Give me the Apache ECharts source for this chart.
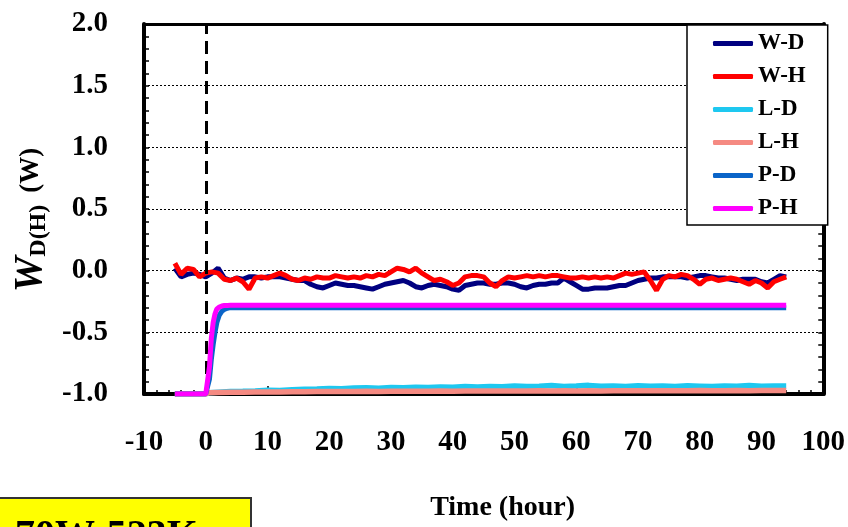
<!DOCTYPE html>
<html>
<head>
<meta charset="utf-8">
<script src="https://cdn.jsdelivr.net/npm/echarts@6/dist/echarts.min.js"></script>
<style>
html,body{margin:0;padding:0;background:#fff;}
#chart{width:848px;height:527px;}
</style>
</head>
<body>
<div id="chart"></div>
<script>
// ---- data ----
var timeW = [];
for (var h = -5; h <= 94; h++) timeW.push(h);

var wD = [0.02,-0.05,-0.03,-0.02,-0.03,-0.05,-0.02,0.02,-0.06,-0.08,
  -0.06,-0.07,-0.05,-0.05,-0.06,-0.05,-0.05,-0.05,-0.06,-0.07,
  -0.08,-0.08,-0.11,-0.13,-0.14,-0.12,-0.10,-0.11,-0.12,-0.12,
  -0.13,-0.14,-0.15,-0.13,-0.11,-0.10,-0.09,-0.08,-0.10,-0.13,
  -0.14,-0.12,-0.11,-0.12,-0.13,-0.15,-0.16,-0.12,-0.11,-0.10,
  -0.10,-0.11,-0.11,-0.10,-0.10,-0.11,-0.13,-0.14,-0.12,-0.11,
  -0.11,-0.10,-0.10,-0.06,-0.09,-0.12,-0.15,-0.15,-0.14,-0.14,
  -0.14,-0.13,-0.12,-0.12,-0.10,-0.08,-0.07,-0.06,-0.06,-0.05,
  -0.05,-0.05,-0.05,-0.06,-0.05,-0.04,-0.04,-0.05,-0.06,-0.06,
  -0.07,-0.08,-0.07,-0.07,-0.07,-0.09,-0.10,-0.07,-0.04,-0.05];

var wH = [0.06,-0.03,0.02,0.01,-0.05,-0.02,-0.01,-0.02,-0.07,-0.08,
  -0.06,-0.09,-0.15,-0.06,-0.05,-0.06,-0.04,-0.02,-0.04,-0.07,
  -0.08,-0.06,-0.07,-0.05,-0.06,-0.06,-0.04,-0.05,-0.06,-0.05,
  -0.06,-0.04,-0.05,-0.03,-0.04,-0.01,0.02,0.01,-0.01,0.02,
  -0.02,-0.05,-0.08,-0.07,-0.09,-0.12,-0.10,-0.05,-0.04,-0.04,
  -0.05,-0.10,-0.13,-0.08,-0.05,-0.06,-0.05,-0.04,-0.05,-0.04,
  -0.05,-0.04,-0.04,-0.05,-0.06,-0.06,-0.05,-0.06,-0.05,-0.06,
  -0.05,-0.06,-0.04,-0.02,-0.03,-0.02,-0.01,-0.08,-0.16,-0.07,
  -0.04,-0.05,-0.03,-0.04,-0.07,-0.11,-0.07,-0.06,-0.08,-0.07,
  -0.06,-0.07,-0.09,-0.11,-0.08,-0.10,-0.14,-0.09,-0.07,-0.05];

var timeL = [-5,-3,-1,0,0.5,2,4,6,8,10,12,14,16,18,20,22,24,26,28,30,32,34,36,38,40,
  42,44,46,48,50,52,54,56,58,60,62,64,66,68,70,72,74,76,78,80,82,84,86,88,90,92,94];
var lD = [-1,-1,-1,-1,-0.99,-0.985,-0.98,-0.978,-0.975,-0.97,-0.972,-0.965,-0.962,-0.96,-0.955,
  -0.958,-0.952,-0.95,-0.953,-0.948,-0.95,-0.945,-0.947,-0.944,-0.946,-0.94,-0.943,-0.94,-0.942,
  -0.935,-0.94,-0.938,-0.932,-0.94,-0.936,-0.93,-0.938,-0.935,-0.94,-0.934,-0.938,-0.936,-0.94,
  -0.934,-0.937,-0.94,-0.935,-0.938,-0.932,-0.937,-0.935,-0.935];
var lH = [-1,-1,-1,-1,-0.99,-0.988,-0.986,-0.985,-0.984,-0.983,-0.983,-0.982,-0.981,-0.98,-0.98,
  -0.979,-0.98,-0.978,-0.979,-0.978,-0.977,-0.978,-0.977,-0.976,-0.977,-0.976,-0.976,-0.975,-0.976,
  -0.975,-0.976,-0.974,-0.975,-0.974,-0.975,-0.973,-0.975,-0.974,-0.974,-0.973,-0.974,-0.973,-0.974,
  -0.973,-0.972,-0.974,-0.973,-0.972,-0.973,-0.972,-0.972,-0.972];

var timeP = [-5,0,0.3,0.6,0.9,1.2,1.5,1.8,2.2,2.6,3,3.5,4,5,10,20,30,40,50,60,70,80,90,94];
var pD = [-1,-1,-1,-0.88,-0.72,-0.6,-0.5,-0.42,-0.36,-0.33,-0.315,-0.305,-0.30,-0.30,
  -0.30,-0.30,-0.30,-0.30,-0.30,-0.30,-0.30,-0.30,-0.30,-0.30];
var pH = [-1,-1,-1,-0.78,-0.55,-0.42,-0.35,-0.31,-0.295,-0.287,-0.283,-0.282,-0.281,-0.28,
  -0.28,-0.28,-0.28,-0.28,-0.28,-0.28,-0.28,-0.28,-0.28,-0.28];

var seriesNames = ['W-D','W-H','L-D','L-H','P-D','P-H'];
var seriesColors = ['#000080','#FF0000','#1EC8F0','#F58A82','#0A64C8','#FF00FF'];
var xTicks = {min:-10, max:100, step:10};
var yTicks = {min:-1, max:2, step:0.5};

function pairs(t, v){ return t.map(function(x,i){ return [x, v[i]]; }); }
var seriesData = [pairs(timeW,wD), pairs(timeW,wH), pairs(timeL,lD), pairs(timeL,lH), pairs(timeP,pD), pairs(timeP,pH)];
var lineWidths = [5,5,5.5,5.5,5,5];

var FONT = "'Liberation Serif','Times New Roman',serif";
var chart = echarts.init(document.getElementById('chart'), null, {renderer:'canvas'});

var series = seriesNames.map(function(n,i){
  return {
    name:n, type:'line', data:seriesData[i], showSymbol:false, symbol:'none',
    lineStyle:{color:seriesColors[i], width:lineWidths[i]}, itemStyle:{color:seriesColors[i]},
    z: 2+i
  };
});
series[5].markLine = {
  silent:true, symbol:['none','none'], label:{show:false},
  lineStyle:{color:'#000', type:[13,7], width:3},
  data:[{xAxis:0}], animation:false
};

chart.setOption({
  animation:false,
  backgroundColor:'#fff',
  grid:{left:144, right:19, top:24, bottom:133, containLabel:false},
  legend:{
    data:seriesNames, orient:'vertical', left:687, top:25,
    icon:'roundRect', itemWidth:40, itemHeight:5, itemGap:10,
    padding:[7,22,5,26], backgroundColor:'#fff', borderColor:'#000', borderWidth:1.5,
    textStyle:{fontFamily:FONT, fontWeight:'bold', fontSize:23, color:'#000', lineHeight:23},
    z:10
  },
  xAxis:[{
    type:'value', min:xTicks.min, max:xTicks.max, interval:xTicks.step, position:'bottom',
    axisLine:{show:true, onZero:false, lineStyle:{color:'#000', width:4}},
    axisTick:{show:true, inside:true, length:8, lineStyle:{color:'#000', width:1.5}},
    minorTick:{show:true, splitNumber:5, length:4, lineStyle:{color:'#000', width:1.5}},
    splitLine:{show:false},
    axisLabel:{margin:34, fontFamily:FONT, fontWeight:'bold', fontSize:29, color:'#000'},
    name:'Time (hour)', nameLocation:'middle', nameGap:100,
    nameTextStyle:{fontFamily:FONT, fontWeight:'bold', fontSize:28, color:'#000', padding:[0,0,0,38]}
  },{
    type:'value', min:xTicks.min, max:xTicks.max, interval:xTicks.step, position:'top',
    axisLine:{show:true, onZero:false, lineStyle:{color:'#000', width:3}},
    axisTick:{show:false}, axisLabel:{show:false}, splitLine:{show:false}
  }],
  yAxis:[{
    type:'value', min:yTicks.min, max:yTicks.max, interval:yTicks.step, position:'left',
    axisLine:{show:true, onZero:false, lineStyle:{color:'#000', width:4}},
    axisTick:{show:true, inside:true, length:5, lineStyle:{color:'#000', width:1.5}},
    minorTick:{show:true, splitNumber:5, length:5, lineStyle:{color:'#000', width:1.5}},
    splitLine:{show:true, lineStyle:{color:'#000', type:[2,2], width:1}},
    axisLabel:{margin:36, fontFamily:FONT, fontWeight:'bold', fontSize:29, color:'#000',
      formatter:function(v){ return v.toFixed(1); }},
    name:'{w|W}{s|D(H)}{g|}{n|(W)}', nameLocation:'middle', nameGap:93,
    nameTextStyle:{
      padding:[0,22,0,0],
      rich:{
        w:{fontFamily:FONT, fontWeight:'bold', fontStyle:'italic', fontSize:40, color:'#000', lineHeight:40, verticalAlign:'middle'},
        s:{fontFamily:FONT, fontWeight:'bold', fontSize:24, color:'#000', lineHeight:40, verticalAlign:'bottom'},
        g:{width:12},
        n:{fontFamily:FONT, fontWeight:'bold', fontSize:27, color:'#000', lineHeight:40, verticalAlign:'middle'}
      }
    }
  },{
    type:'value', min:yTicks.min, max:yTicks.max, interval:yTicks.step, position:'right',
    axisLine:{show:true, onZero:false, lineStyle:{color:'#000', width:4}},
    axisTick:{show:true, inside:true, length:5, lineStyle:{color:'#000', width:1.5}},
    minorTick:{show:true, splitNumber:5, length:5, lineStyle:{color:'#000', width:1.5}},
    axisLabel:{show:false}, splitLine:{show:false}
  }],
  graphic:[{
    type:'rect', left:-2, top:497, shape:{width:252, height:60},
    style:{fill:'#FFFF00', stroke:'#333', lineWidth:2}, z:20
  },{
    type:'text', left:15, top:517,
    style:{text:'70W-523K', fill:'#000', font:"bold 40px 'Liberation Serif','Times New Roman',serif"}, z:21
  }],
  series:series
});
</script>
</body>
</html>
